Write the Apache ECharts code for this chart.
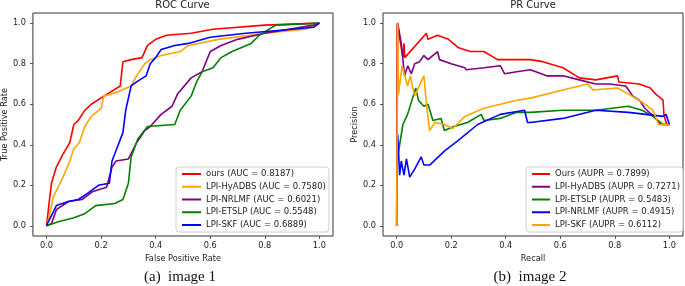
<!DOCTYPE html>
<html>
<head>
<meta charset="utf-8">
<script src="https://cdn.jsdelivr.net/npm/echarts@6/dist/echarts.min.js"></script>
<style>
  html, body { margin: 0; padding: 0; background: #fff; }
  #chart { width: 685px; height: 286px; }
</style>
</head>
<body>
<div id="chart"></div>
<script>
// tick values shared by all four axes
const tickValues = [0, 0.2, 0.4, 0.6, 0.8, 1.0];

// ROC curves, [fpr, tpr]
const rocOurs = [[0,0],[0.009,0.11],[0.018,0.21],[0.036,0.29],[0.055,0.34],[0.067,0.37],[0.085,0.41],[0.10,0.50],[0.116,0.52],[0.14,0.57],[0.164,0.60],[0.21,0.64],[0.27,0.69],[0.28,0.81],[0.31,0.82],[0.35,0.83],[0.37,0.89],[0.40,0.92],[0.44,0.94],[0.53,0.95],[0.61,0.97],[0.80,0.99],[1,1]];
const rocHyADBS = [[0,0],[0.012,0.06],[0.024,0.14],[0.049,0.21],[0.067,0.26],[0.085,0.32],[0.10,0.38],[0.12,0.41],[0.14,0.49],[0.164,0.54],[0.20,0.58],[0.21,0.64],[0.26,0.66],[0.31,0.69],[0.33,0.74],[0.36,0.80],[0.38,0.82],[0.42,0.84],[0.49,0.86],[0.52,0.89],[0.63,0.92],[0.80,0.95],[0.95,0.97],[1,1]];
const rocNRLMF = [[0,0],[0.018,0.01],[0.036,0.08],[0.08,0.12],[0.13,0.13],[0.17,0.17],[0.22,0.19],[0.24,0.29],[0.255,0.32],[0.30,0.33],[0.33,0.41],[0.36,0.47],[0.38,0.49],[0.42,0.55],[0.46,0.59],[0.48,0.65],[0.53,0.73],[0.57,0.76],[0.60,0.86],[0.64,0.89],[0.70,0.92],[0.80,0.95],[0.98,0.99],[1,1]];
const rocETSLP = [[0,0],[0.043,0.02],[0.10,0.04],[0.14,0.06],[0.18,0.10],[0.25,0.11],[0.28,0.13],[0.30,0.21],[0.31,0.34],[0.335,0.43],[0.37,0.49],[0.47,0.50],[0.49,0.57],[0.53,0.64],[0.55,0.71],[0.57,0.76],[0.61,0.78],[0.64,0.83],[0.68,0.86],[0.75,0.90],[0.78,0.94],[0.84,0.99],[1,1]];
const rocSKF = [[0,0],[0.006,0.02],[0.018,0.05],[0.036,0.10],[0.08,0.12],[0.116,0.13],[0.15,0.16],[0.19,0.20],[0.23,0.21],[0.24,0.32],[0.26,0.39],[0.28,0.46],[0.29,0.57],[0.31,0.69],[0.33,0.71],[0.365,0.74],[0.38,0.80],[0.40,0.83],[0.42,0.87],[0.47,0.89],[0.52,0.90],[0.60,0.93],[0.73,0.95],[0.90,0.97],[0.98,0.98],[1,1]];

// PR curves, [recall, precision]
const prOurs = [[0,0],[0.002,1.0],[0.023,0.83],[0.027,0.90],[0.03,0.83],[0.109,0.95],[0.115,0.92],[0.15,0.94],[0.19,0.92],[0.225,0.88],[0.27,0.86],[0.32,0.86],[0.37,0.82],[0.44,0.82],[0.49,0.82],[0.536,0.81],[0.61,0.78],[0.67,0.73],[0.73,0.72],[0.81,0.74],[0.815,0.71],[0.89,0.70],[0.93,0.68],[0.95,0.65],[0.977,0.62],[0.98,0.55],[0.99,0.50],[1.0,0.50]];
const prHyADBS = [[0,0],[0.004,1.0],[0.017,0.90],[0.029,0.74],[0.041,0.79],[0.054,0.75],[0.066,0.80],[0.084,0.81],[0.10,0.84],[0.115,0.82],[0.15,0.86],[0.157,0.82],[0.20,0.80],[0.25,0.78],[0.255,0.77],[0.32,0.78],[0.38,0.79],[0.396,0.75],[0.44,0.76],[0.49,0.77],[0.55,0.74],[0.61,0.74],[0.67,0.72],[0.73,0.70],[0.78,0.70],[0.84,0.69],[0.866,0.64],[0.89,0.62],[0.91,0.58],[0.95,0.53],[0.97,0.50],[1.0,0.50]];
const prETSLP = [[0.005,0.35],[0.023,0.50],[0.04,0.55],[0.07,0.68],[0.08,0.62],[0.10,0.59],[0.115,0.60],[0.133,0.52],[0.163,0.53],[0.175,0.47],[0.21,0.49],[0.26,0.51],[0.31,0.55],[0.32,0.52],[0.38,0.53],[0.44,0.56],[0.49,0.56],[0.61,0.57],[0.73,0.57],[0.85,0.59],[0.90,0.57],[0.94,0.54],[0.977,0.50],[1.0,0.50]];
const prNRLMF = [[0.004,0.45],[0.011,0.25],[0.017,0.32],[0.027,0.25],[0.036,0.33],[0.048,0.24],[0.066,0.28],[0.09,0.34],[0.10,0.30],[0.121,0.30],[0.176,0.37],[0.225,0.42],[0.297,0.50],[0.38,0.55],[0.469,0.57],[0.48,0.51],[0.49,0.51],[0.61,0.53],[0.73,0.57],[0.85,0.56],[0.977,0.54],[0.988,0.55],[1.0,0.50]];
const prSKF = [[0,0],[0.004,1.0],[0.007,0.65],[0.02,0.79],[0.04,0.69],[0.05,0.74],[0.066,0.64],[0.10,0.74],[0.11,0.59],[0.121,0.47],[0.14,0.51],[0.176,0.50],[0.206,0.48],[0.25,0.54],[0.32,0.58],[0.38,0.60],[0.44,0.62],[0.49,0.63],[0.61,0.67],[0.70,0.70],[0.72,0.67],[0.81,0.68],[0.85,0.65],[0.90,0.61],[0.94,0.57],[0.96,0.50],[1.0,0.50]];

const rocNames = ["ours (AUC = 0.8187)", "LPI-HyADBS (AUC = 0.7580)", "LPI-NRLMF (AUC = 0.6021)", "LPI-ETSLP (AUC = 0.5548)", "LPI-SKF (AUC = 0.6889)"];
const prNames = ["Ours (AUPR = 0.7899)", "LPI-HyADBS (AUPR = 0.7271)", "LPI-ETSLP (AUPR = 0.5483)", "LPI-NRLMF (AUPR = 0.4915)", "LPI-SKF (AUPR = 0.6112)"];

const FONT = "DejaVu Sans";

function axis(gridIndex, name, isX) {
  return {
    type: "value",
    gridIndex: gridIndex,
    min: -0.05,
    max: 1.05,
    name: name,
    nameLocation: "middle",
    nameGap: isX ? 16 : 22,
    nameTextStyle: { fontFamily: FONT, fontSize: 8.2, color: "#222" },
    axisLine: { show: false, onZero: false },
    splitLine: { show: false },
    axisTick: { show: true, length: 3, customValues: tickValues, lineStyle: { color: "#333", width: 0.8 } },
    axisLabel: {
      customValues: tickValues,
      margin: isX ? 6 : 7,
      fontFamily: FONT,
      fontSize: 8.2,
      color: "#222",
      formatter: v => v.toFixed(1)
    }
  };
}

function line(name, data, color, idx) {
  return {
    type: "line",
    name: name,
    data: data,
    xAxisIndex: idx,
    yAxisIndex: idx,
    showSymbol: false,
    symbol: "none",
    lineStyle: { width: 1.6, color: color },
    itemStyle: { color: color }
  };
}

function legend(names, left, itemWidth) {
  return {
    data: names,
    orient: "vertical",
    left: left,
    top: 167,
    icon: "rect",
    itemWidth: itemWidth,
    itemHeight: 2,
    itemGap: 1.75,
    padding: [1.5, 3, 1.5, 6],
    borderColor: "#d0d0d0",
    borderWidth: 1,
    borderRadius: 3,
    backgroundColor: "rgba(255,255,255,0.8)",
    textStyle: { fontFamily: FONT, fontSize: 8.5, lineHeight: 11, color: "#222" }
  };
}

const myChart = echarts.init(document.getElementById("chart"));
myChart.setOption({
  animation: false,
  backgroundColor: "#fff",
  grid: [
    { left: 32, top: 13, width: 301, height: 223, show: true, borderColor: "#333", borderWidth: 1 },
    { left: 383, top: 13, width: 300, height: 223, show: true, borderColor: "#333", borderWidth: 1 }
  ],
  xAxis: [axis(0, "False Positive Rate", true), axis(1, "Recall", true)],
  yAxis: [axis(0, "True Positive Rate", false), axis(1, "Precision", false)],
  legend: [legend(rocNames, 176, 19), legend(prNames, 526, 18)],
  graphic: [
    { type: "text", x: 182.5, y: 5, style: { text: "ROC Curve", font: "10px DejaVu Sans", fill: "#222", textAlign: "center", textVerticalAlign: "middle" } },
    { type: "text", x: 533, y: 5, style: { text: "PR Curve", font: "10px DejaVu Sans", fill: "#222", textAlign: "center", textVerticalAlign: "middle" } },
    { type: "text", x: 180, y: 277, style: { text: "(a)  image 1", font: "15px Liberation Serif", fill: "#111", textAlign: "center", textVerticalAlign: "middle" } },
    { type: "text", x: 530, y: 277, style: { text: "(b)  image 2", font: "15px Liberation Serif", fill: "#111", textAlign: "center", textVerticalAlign: "middle" } }
  ],
  series: [
    line(rocNames[0], rocOurs, "#ff0000", 0),
    line(rocNames[1], rocHyADBS, "#ffa500", 0),
    line(rocNames[2], rocNRLMF, "#800080", 0),
    line(rocNames[3], rocETSLP, "#008000", 0),
    line(rocNames[4], rocSKF, "#0000ff", 0),
    line(prNames[0], prOurs, "#ff0000", 1),
    line(prNames[1], prHyADBS, "#800080", 1),
    line(prNames[2], prETSLP, "#008000", 1),
    line(prNames[3], prNRLMF, "#0000ff", 1),
    line(prNames[4], prSKF, "#ffa500", 1)
  ]
});
</script>
</body>
</html>
